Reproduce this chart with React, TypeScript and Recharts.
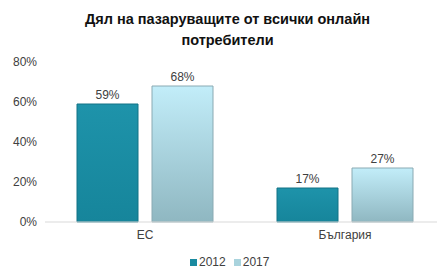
import { BarChart, Bar, XAxis, YAxis, Legend, LabelList } from "recharts";

const categories = ["ЕС", "България"];
const values2012 = [59, 17];
const values2017 = [68, 27];
const yTicks = [0, 20, 40, 60, 80];

const chartData = categories.map((name, i) => ({
  name,
  y2012: values2012[i],
  y2017: values2017[i],
}));

const pct = (v: number) => `${v}%`;

const LegendContent = () => (
  <div style={{ display: "flex", gap: 8, fontSize: 12, color: "#404040", fontFamily: "Liberation Sans, Arial, sans-serif" }}>
    <span style={{ display: "flex", alignItems: "center" }}>
      <span style={{ width: 7, height: 7, background: "#1a8aa0", marginRight: 2, display: "inline-block" }} />
      2012
    </span>
    <span style={{ display: "flex", alignItems: "center" }}>
      <span style={{ width: 7, height: 7, background: "#a9d3dd", marginRight: 2, display: "inline-block" }} />
      2017
    </span>
  </div>
);

const App = () => {
  return (
    <div style={{ position: "absolute", left: 0, top: 0, width: 437, height: 269, overflow: "hidden", background: "#fff" }}>
      <div
        style={{
          position: "absolute",
          left: 0,
          width: 455,
          top: 9,
          textAlign: "center",
          fontFamily: "Liberation Sans, Arial, sans-serif",
          fontWeight: "bold",
          fontSize: 14.5,
          lineHeight: "21px",
          color: "#111",
        }}
      >
        Дял на пазаруващите от всички онлайн
        <br />
        потребители
      </div>
      <BarChart
        width={445}
        height={269}
        data={chartData}
        margin={{ top: 62, right: 0, bottom: 0, left: 0 }}
        barCategoryGap="16%"
        barGap={14}
        style={{ fontFamily: "Liberation Sans, Arial, sans-serif" }}
      >
        <defs>
          <linearGradient id="g2012" x1="0" y1="0" x2="0" y2="1">
            <stop offset="0%" stopColor="#1e93aa" />
            <stop offset="100%" stopColor="#16859b" />
          </linearGradient>
          <linearGradient id="g2017" x1="0" y1="0" x2="0" y2="1">
            <stop offset="0%" stopColor="#c2edf9" />
            <stop offset="100%" stopColor="#8fb7c1" />
          </linearGradient>
        </defs>
        <XAxis
          dataKey="name"
          axisLine={{ stroke: "#d9d9d9" }}
          tickLine={false}
          tick={{ fontSize: 12, fill: "#404040" }}
          height={25}
        />
        <YAxis
          domain={[0, 80]}
          ticks={yTicks}
          tickFormatter={pct}
          axisLine={false}
          tickLine={false}
          width={45}
          tick={{ fontSize: 12, fill: "#404040" }}
        />
        <Legend
          verticalAlign="bottom"
          content={<LegendContent />}
          wrapperStyle={{ left: 190, top: 255, bottom: "auto", width: "auto", height: 22 }}
        />
        <Bar dataKey="y2012" name="2012" fill="url(#g2012)" stroke="#137385" strokeWidth={1} isAnimationActive={false}>
          <LabelList dataKey="y2012" position="top" formatter={pct} style={{ fontSize: 12, fill: "#404040" }} />
        </Bar>
        <Bar dataKey="y2017" name="2017" fill="url(#g2017)" stroke="#8aaab3" strokeWidth={1} isAnimationActive={false}>
          <LabelList dataKey="y2017" position="top" formatter={pct} style={{ fontSize: 12, fill: "#404040" }} />
        </Bar>
      </BarChart>
    </div>
  );
};

export default App;
